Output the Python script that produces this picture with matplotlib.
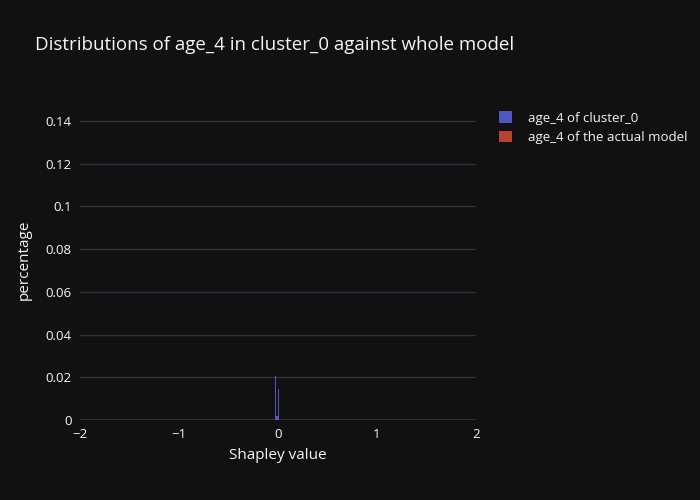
import matplotlib
matplotlib.use("Agg")
import matplotlib.pyplot as plt
from matplotlib.patches import Patch

# Histogram bins (bin centre, height)
cluster_x = [-0.027, -0.010, 0.003]
cluster_h = [0.0206, 0.0019, 0.0145]
model_x = [-0.027, -0.010, 0.003]
model_h = [0.0004, 0.0002, 0.0003]

x_ticks = [-2, -1, 0, 1, 2]
y_ticks = [0, 0.02, 0.04, 0.06, 0.08, 0.1, 0.12, 0.14]
y_labels = ["0", "0.02", "0.04", "0.06", "0.08", "0.1", "0.12", "0.14"]

bg = "#111111"
grid = "#283442"
blue = "#636efa"
red = "#ef553b"

plt.rcParams['font.family'] = 'Open Sans'

fig = plt.figure(figsize=(7, 5), dpi=100, facecolor=bg)
ax = fig.add_axes([80 / 700, 80 / 500, 396 / 700, 320 / 500], facecolor=bg)

ax.bar(model_x, model_h, width=0.012, color=red, alpha=0.75, linewidth=0, zorder=3)
ax.bar(cluster_x, cluster_h, width=0.012, color=blue, alpha=0.75, linewidth=0, zorder=3)

ax.set_xlim(-2, 2)
ax.set_ylim(0, 0.1498)
ax.set_xticks(x_ticks)
ax.set_yticks(y_ticks)
ax.set_yticklabels(y_labels)
ax.grid(True, axis='y', color=grid, linewidth=1, zorder=0)
ax.axhline(0, color=grid, linewidth=2, zorder=1)
for s in ax.spines.values():
    s.set_visible(False)
ax.tick_params(colors="#f2f5fa", labelsize=9.5, length=0, pad=6)

ax.set_xlabel("Shapley value", color="#f2f5fa", fontsize=11, labelpad=5)
ax.set_ylabel("percentage", color="#f2f5fa", fontsize=11, labelpad=10)

fig.text(35 / 700, 1 - 45 / 500, "Distributions of age_4 in cluster_0 against whole model",
         color="#f2f5fa", fontsize=13.5, va="center", ha="left")

handles = [Patch(facecolor=blue, alpha=0.75, label="age_4 of cluster_0"),
           Patch(facecolor=red, alpha=0.75, label="age_4 of the actual model")]
leg = fig.legend(handles=handles, loc="upper left", bbox_to_anchor=(494 / 700, 1 - 106 / 500),
                 frameon=False, fontsize=9.5, handlelength=1.0, handleheight=1.0,
                 handletextpad=1.2, labelspacing=0.45, borderaxespad=0)
for t in leg.get_texts():
    t.set_color("#f2f5fa")

fig.savefig("out.png", dpi=100, facecolor=bg)
